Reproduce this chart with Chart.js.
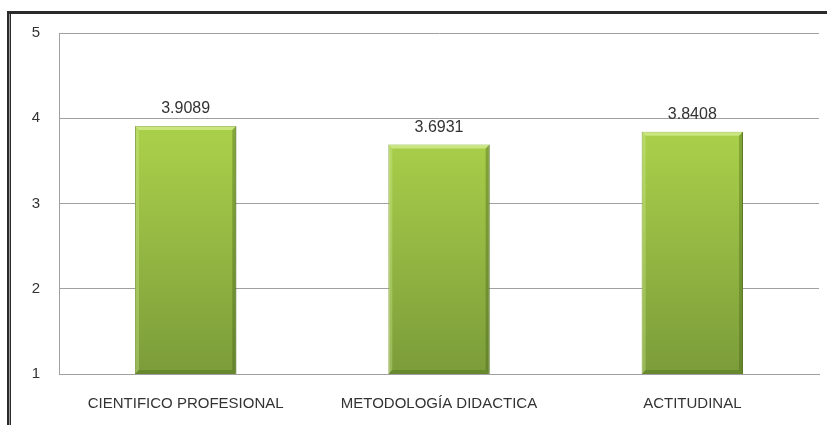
<!DOCTYPE html>
<html>
<head>
<meta charset="utf-8">
<script src="https://cdn.jsdelivr.net/npm/chart.js@4"></script>
<style>
html,body{margin:0;padding:0;background:#fff;}
#wrap{position:relative;width:827px;height:425px;}
</style>
</head>
<body>
<div id="wrap"><canvas id="c" width="827" height="425"></canvas></div>
<script>
const categories = ["CIENTIFICO PROFESIONAL", "METODOLOGÍA DIDACTICA", "ACTITUDINAL"];
const values = [3.9089, 3.6931, 3.8408];
const valueLabels = ["3.9089", "3.6931", "3.8408"];
const yTicks = [1, 2, 3, 4, 5];

const FONT = "'Liberation Sans', Arial, sans-serif";

const framePlugin = {
  id: 'frame',
  beforeDraw(chart) {
    const ctx = chart.ctx;
    ctx.save();
    ctx.fillStyle = '#fff';
    ctx.fillRect(0, 0, chart.width, chart.height);
    ctx.fillStyle = '#2a2a2a';
    ctx.fillRect(7, 11, 4, chart.height - 11);
    ctx.fillRect(7, 11, chart.width - 7, 3);
    ctx.fillStyle = '#9a9a9a';
    ctx.fillRect(9, 14, 1, chart.height - 14);
    ctx.restore();
  }
};

const valueLabelPlugin = {
  id: 'valueLabels',
  afterDatasetsDraw(chart) {
    const ctx = chart.ctx;
    const meta = chart.getDatasetMeta(0);
    ctx.save();
    ctx.font = "16px " + FONT;
    ctx.fillStyle = '#333';
    ctx.textAlign = 'center';
    ctx.textBaseline = 'middle';
    meta.data.forEach((bar, i) => {
      ctx.fillText(valueLabels[i], bar.x, bar.y - 17);
    });
    ctx.restore();
  }
};

const bevelPlugin = {
  id: 'bevel',
  afterDatasetsDraw(chart) {
    const ctx = chart.ctx;
    const meta = chart.getDatasetMeta(0);
    const area = chart.chartArea;
    ctx.save();
    meta.data.forEach(bar => {
      const l = bar.x - bar.width / 2, r = bar.x + bar.width / 2;
      const t = bar.y, b = Math.min(bar.base, area.bottom);
      const d = 4;
      ctx.fillStyle = 'rgba(230,250,170,0.55)';
      ctx.beginPath();
      ctx.moveTo(l, t); ctx.lineTo(r, t); ctx.lineTo(r - d, t + d); ctx.lineTo(l + d, t + d); ctx.closePath(); ctx.fill();
      ctx.fillStyle = 'rgba(220,245,160,0.3)';
      ctx.beginPath();
      ctx.moveTo(l, t); ctx.lineTo(l + d, t + d); ctx.lineTo(l + d, b - d); ctx.lineTo(l, b); ctx.closePath(); ctx.fill();
      ctx.fillStyle = 'rgba(60,90,20,0.35)';
      ctx.beginPath();
      ctx.moveTo(r, t); ctx.lineTo(r - d, t + d); ctx.lineTo(r - d, b - d); ctx.lineTo(r, b); ctx.closePath(); ctx.fill();
      ctx.fillStyle = 'rgba(60,90,20,0.3)';
      ctx.beginPath();
      ctx.moveTo(l, b); ctx.lineTo(l + d, b - d); ctx.lineTo(r - d, b - d); ctx.lineTo(r, b); ctx.closePath(); ctx.fill();
    });
    ctx.restore();
  }
};

new Chart(document.getElementById('c'), {
  type: 'bar',
  data: {
    labels: categories,
    datasets: [{
      data: values,
      backgroundColor: (c) => {
        const area = c.chart.chartArea;
        if (!area) return '#9bc344';
        const g = c.chart.ctx.createLinearGradient(0, area.top, 0, area.bottom);
        g.addColorStop(0, '#b4dc50');
        g.addColorStop(0.35, '#a6cc49');
        g.addColorStop(1, '#7b9c3a');
        return g;
      },
      borderColor: '#6d8c2e',
      borderWidth: 1,
      borderSkipped: 'bottom',
      barPercentage: 0.8,
      categoryPercentage: 0.5
    }]
  },
  options: {
    responsive: false,
    animation: false,
    events: [],
    layout: { padding: { left: 0, top: 33, right: 8, bottom: 0 } },
    plugins: { legend: { display: false }, tooltip: { enabled: false } },
    scales: {
      x: {
        afterFit(s) { s.height = 51; },
        grid: { display: false, drawTicks: false },
        border: { display: true, color: '#a0a0a0', width: 1 },
        ticks: { font: { size: 15, family: FONT }, color: '#333', padding: 21, maxRotation: 0 }
      },
      y: {
        min: 1, max: 5,
        afterFit(s) { s.width = 59; },
        afterBuildTicks(s) { s.ticks = yTicks.map(v => ({ value: v })); },
        grid: { color: '#a0a0a0', lineWidth: 1, drawTicks: false },
        border: { display: true, color: '#a0a0a0', width: 1 },
        ticks: { font: { size: 15, family: FONT }, color: '#333', padding: 19 }
      }
    }
  },
  plugins: [framePlugin, bevelPlugin, valueLabelPlugin]
});
</script>
</body>
</html>
